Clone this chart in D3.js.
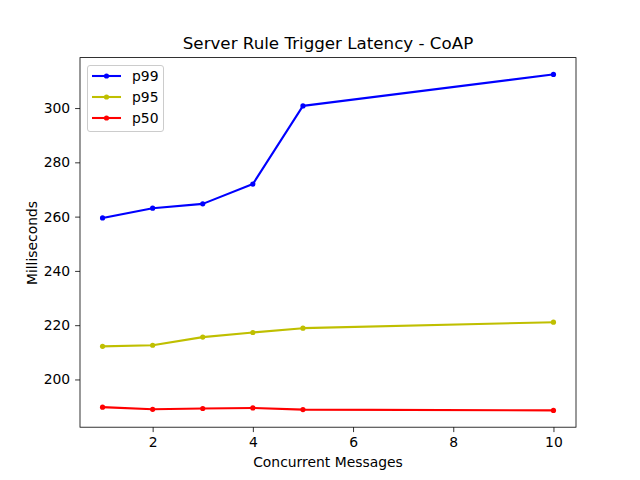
<!DOCTYPE html>
<html><head><meta charset="utf-8">
<script src="https://cdn.jsdelivr.net/npm/d3@7"></script>
<style>body{margin:0;background:#fff}text{font-family:"DejaVu Sans",sans-serif;fill:#000}</style>
</head><body><svg id="c" width="640" height="480"></svg>
<script>
const xValues = [1, 2, 3, 4, 5, 10];
const p99 = [259.5, 263.1, 264.7, 272.0, 300.8, 312.4];
const p95 = [212.2, 212.6, 215.6, 217.3, 218.9, 221.1];
const p50 = [189.8, 189.0, 189.3, 189.5, 188.9, 188.6];
const seriesNames = ["p99", "p95", "p50"];
const seriesColors = ["#0000ff", "#bfbf00", "#ff0000"];
const xTicks = [2, 4, 6, 8, 10];
const yTicks = [200, 220, 240, 260, 280, 300];

const series = [p99, p95, p50];
const svg = d3.select("#c");
const L = 80, R = 576, T = 57.6, B = 427.2;
const all = series.flat();
const ymin = d3.min(all), ymax = d3.max(all), yr = ymax - ymin;
const x = d3.scaleLinear().domain([0.55, 10.45]).range([L, R]);
const y = d3.scaleLinear().domain([ymin - 0.05 * yr, ymax + 0.05 * yr]).range([B, T]);

const xAxis = svg.append("g").attr("transform", `translate(0,${B})`)
  .call(d3.axisBottom(x).tickValues(xTicks).tickSize(4.9).tickPadding(4.9).tickFormat(d3.format("d")));
const yAxis = svg.append("g").attr("transform", `translate(${L},0)`)
  .call(d3.axisLeft(y).tickValues(yTicks).tickSize(4.9).tickPadding(4.9).tickFormat(d3.format("d")));
[xAxis, yAxis].forEach(a => {
  a.select(".domain").remove();
  a.selectAll("line").attr("stroke", "#000").attr("stroke-width", 0.8);
  a.selectAll("text").attr("font-size", "13.9px").attr("font-family", "DejaVu Sans").attr("fill", "#000");
});

const line = d3.line().x((d, i) => x(xValues[i])).y(d => y(d));
series.forEach((s, k) => {
  svg.append("path").datum(s).attr("d", line).attr("fill", "none")
    .attr("stroke", seriesColors[k]).attr("stroke-width", 2.08).attr("stroke-linejoin", "round").attr("stroke-linecap", "square");
  svg.selectAll(null).data(s).enter().append("circle")
    .attr("cx", (d, i) => x(xValues[i])).attr("cy", d => y(d)).attr("r", 2.6).attr("fill", seriesColors[k]);
});

svg.append("rect").attr("x", L).attr("y", T).attr("width", R - L).attr("height", B - T)
  .attr("fill", "none").attr("stroke", "#000").attr("stroke-width", 0.8);

svg.append("text").attr("x", (L + R) / 2).attr("y", 49).attr("text-anchor", "middle")
  .attr("font-size", "16.7px").text("Server Rule Trigger Latency - CoAP");
svg.append("text").attr("x", (L + R) / 2).attr("y", 467).attr("text-anchor", "middle")
  .attr("font-size", "13.9px").text("Concurrent Messages");
svg.append("text").attr("transform", "translate(37,243) rotate(-90)").attr("text-anchor", "middle")
  .attr("font-size", "13.9px").text("Milliseconds");

const lg = svg.append("g");
lg.append("rect").attr("x", 87.5).attr("y", 65.5).attr("width", 76).attr("height", 66).attr("rx", 2.5)
  .attr("fill", "#fff").attr("fill-opacity", 0.8).attr("stroke", "#cccccc").attr("stroke-width", 1);
seriesNames.forEach((n, k) => {
  const yy = 76 + k * 21;
  lg.append("line").attr("x1", 92).attr("x2", 121).attr("y1", yy).attr("y2", yy)
    .attr("stroke", seriesColors[k]).attr("stroke-width", 2.08);
  lg.append("circle").attr("cx", 106.5).attr("cy", yy).attr("r", 2.6).attr("fill", seriesColors[k]);
  lg.append("text").attr("x", 132).attr("y", yy + 5).attr("font-size", "13.9px").text(n);
});
</script></body></html>
